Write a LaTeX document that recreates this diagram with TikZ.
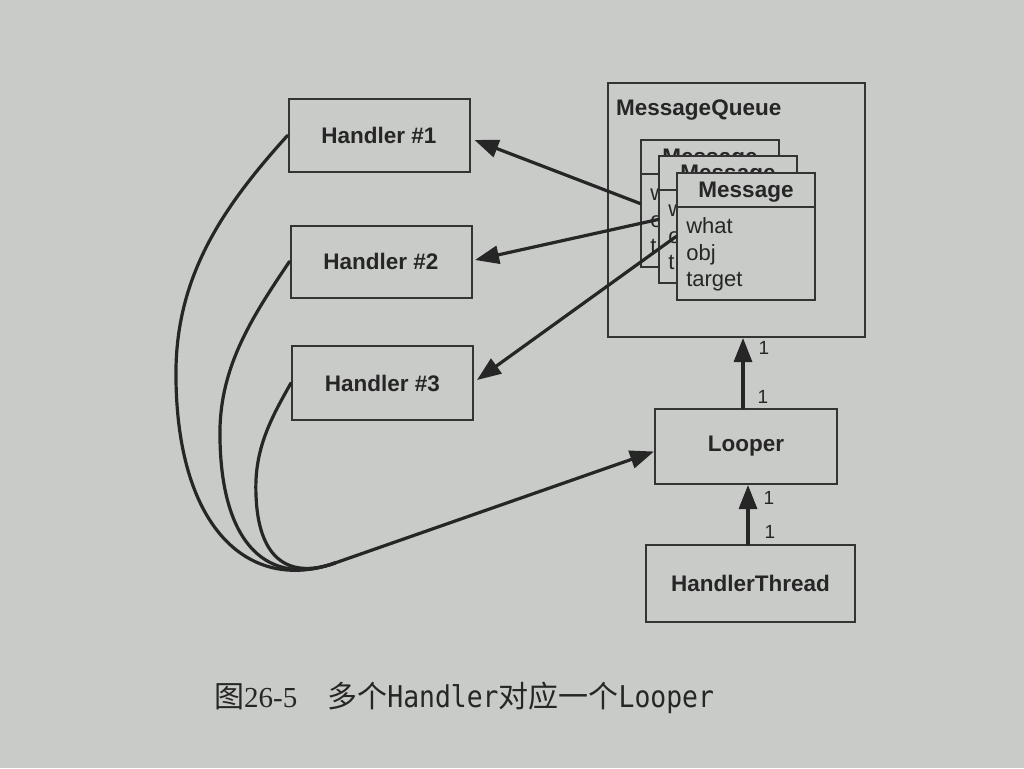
\documentclass[tikz,border=0pt]{standalone}
\usepackage{fontspec}
\setmainfont{Liberation Sans}
\setsansfont{Liberation Sans}
\newfontfamily\cjkfont{Noto Sans CJK SC}
\newfontfamily\capmono[FakeStretch=0.88]{DejaVu Sans Mono}
\newfontfamily\capserif{Liberation Serif}
\usetikzlibrary{arrows.meta,calc}
\definecolor{paper}{RGB}{200,203,199}
\definecolor{ink}{RGB}{38,38,38}
\definecolor{boxline}{RGB}{52,52,52}
\begin{document}
\begin{tikzpicture}[x=1pt,y=-1pt,
  box/.style={draw=boxline, line width=2pt, fill=paper, inner sep=0pt, font=\fontsize{22.5}{26}\selectfont\bfseries, text=ink},
  card/.style={draw=boxline, line width=1.8pt, fill=paper, minimum width=138pt, minimum height=127pt, inner sep=0pt},
  field/.style={anchor=base west, inner sep=0pt, font=\fontsize{22}{26}\selectfont, text=ink},
  head/.style={inner sep=0pt, font=\fontsize{22.5}{26}\selectfont\bfseries, text=ink},
  conn/.style={draw=ink, line width=3.2pt, line cap=round, line join=round},
  arr/.style={conn, -{Triangle[length=24pt,width=18pt]}},
  mult/.style={inner sep=0pt, font=\fontsize{19}{21}\selectfont, text=ink},
]
\fill[paper] (0,0) rectangle (1024,768);
\useasboundingbox (0,0) rectangle (1024,768);

% Handlers
\node[box, minimum width=181pt, minimum height=73pt] (h1) at (379,135.5) {Handler \#1};
\node[box, minimum width=181pt, minimum height=72pt] (h2) at (381,261.5) {Handler \#2};
\node[box, minimum width=181pt, minimum height=74pt] (h3) at (382.5,383) {Handler \#3};

% MessageQueue
\node[box, minimum width=257pt, minimum height=254pt] (mq) at (736.5,210) {};
\node[head, anchor=base west] (mqt) at (616,115) {MessageQueue};

% Message cards (back ones only show the left edge of their fields)
\foreach \n/\cx/\cy in {1/710/203.5, 2/728/219.5} {
  \node[card] (m\n) at (\cx,\cy) {};
  \draw[boxline, line width=1.8pt] ($(m\n.north west)+(0,35)$) -- ($(m\n.north east)+(0,35)$);
  \node[head, anchor=base, text depth=0pt] (mh\n) at ($(m\n.north)+(0,25)$) {Message};
  \node[field] (mw\n) at ($(m\n.north west)+(10,61)$) {w};
  \node[field] (mo\n) at ($(m\n.north west)+(10,88)$) {o};
  \node[field] (mt\n) at ($(m\n.north west)+(10,114)$) {t};
}
\node[card] (m3) at (746,236.5) {};
\draw[boxline, line width=1.8pt] ($(m3.north west)+(0,35)$) -- ($(m3.north east)+(0,35)$);
\node[head, anchor=base] (mh3) at ($(m3.north)+(0,25)$) {Message};
\node[field] (mw3) at ($(m3.north west)+(10,61)$) {what};
\node[field] (mo3) at ($(m3.north west)+(10,88)$) {obj};
\node[field] (mt3) at ($(m3.north west)+(10,114)$) {target};

% Looper and HandlerThread
\node[box, minimum width=182pt, minimum height=75pt] (lp) at (746,446.5) {Looper};
\node[box, minimum width=209pt, minimum height=77pt] (ht) at (750.5,583.5) {HandlerThread};

% message -> handler arrows
\draw[arr] (m1.west) -- ([xshift=4pt,yshift=-4.5pt]h1.east);
\draw[arr] (m2.west) -- ([xshift=2.5pt,yshift=1.5pt]h2.east);
\draw[arr] (m3.west) -- ([xshift=3pt,yshift=3pt]h3.east);

% handler -> looper curves
\coordinate (merge) at (335,563);
\draw[conn] (h1.west) .. controls (220,210) and (174,280) .. (176,380) .. controls (178,530) and (250,593) .. (merge);
\draw[conn] (h2.west) .. controls (250,320) and (218,370) .. (220,440) .. controls (222,545) and (268,587) .. (merge);
\draw[conn] (h3.west) .. controls (270,420) and (254,450) .. (256,495) .. controls (258,555) and (285,580.5) .. (merge);
\draw[arr] (merge) -- ([yshift=-5pt]lp.west);

% vertical arrows
\coordinate (a1) at ($(lp.north)+(-3,0)$);
\draw[arr] (a1) -- (a1 |- mq.south);
\coordinate (a2) at ($(ht.north)+(-2.5,0)$);
\draw[arr] (a2) -- (a2 |- lp.south);

\node[mult] (l1) at (764,348) {1};
\node[mult] (l2) at (763,397) {1};
\node[mult] (l3) at (769,498) {1};
\node[mult] (l4) at (770,532) {1};

% caption
\node[anchor=base west, inner sep=0pt, text=ink] (cap) at (214,707)
  {{\cjkfont\fontsize{30}{32}\selectfont 图}{\capserif\fontsize{29}{32}\selectfont 26-5}\hspace{30pt}{\cjkfont\fontsize{30}{32}\selectfont 多个}{\capmono\fontsize{30}{32}\selectfont Handler}{\cjkfont\fontsize{30}{32}\selectfont 对应一个}{\capmono\fontsize{30}{32}\selectfont Looper}};
\end{tikzpicture}
\end{document}
